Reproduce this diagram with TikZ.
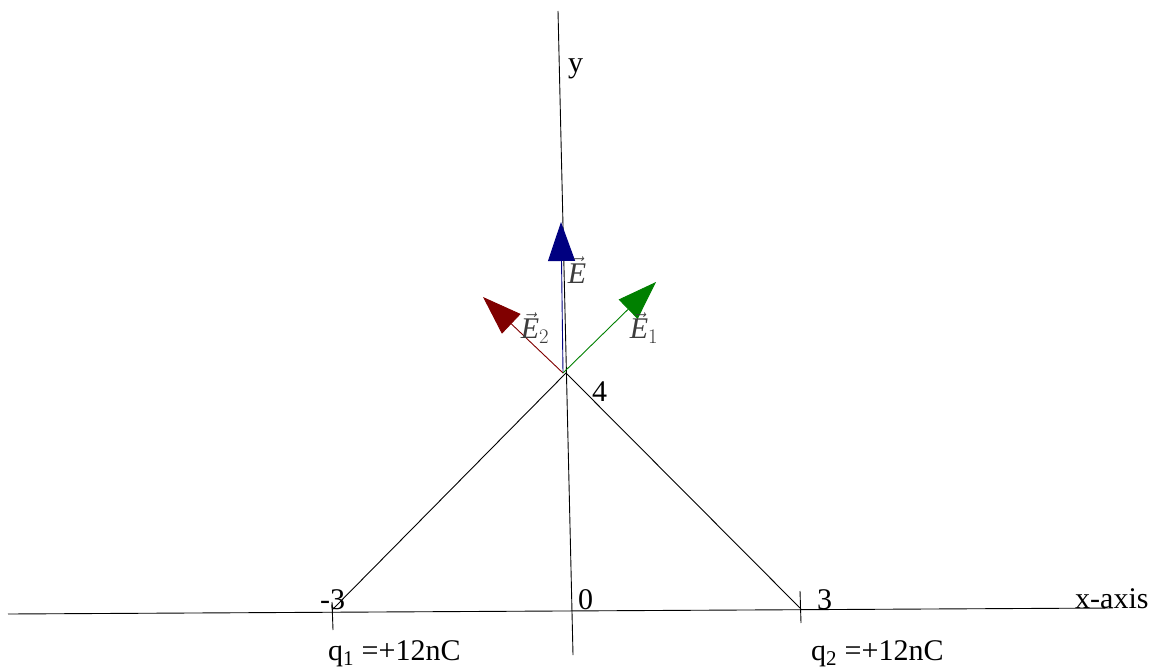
\documentclass[tikz,border=0pt]{standalone}
\usepackage{fontspec}
\setmainfont{Liberation Serif}
\usetikzlibrary{arrows.meta}
\definecolor{vnavy}{RGB}{0,0,128}
\definecolor{vred}{RGB}{128,0,0}
\definecolor{vgreen}{RGB}{0,128,0}
\definecolor{vgray}{RGB}{60,60,60}
\newcommand{\vE}{\vec{\mbox{\itshape E}}}
\begin{document}
\begin{tikzpicture}[x=1pt,y=-1pt,
  ax/.style={draw=black,line width=0.9pt},
  lbl/.style={anchor=base west,inner sep=0pt,font=\fontsize{30}{30}\selectfont},
  vlbl/.style={inner sep=0pt,text=vgray,font=\fontsize{30}{30}\selectfont},
  vec/.style={line width=0.9pt,-{Triangle[length=39pt,width=27pt]}}]
\useasboundingbox (0,0) rectangle (1155,668);
% axes
\coordinate (xl) at (8,614);
\coordinate (xr) at (1113,608);
\coordinate (yt) at (558,11);
\coordinate (yb) at (573,655);
\draw[ax] (xl) -- (xr);
\draw[ax] (yt) -- (yb);
% points
\coordinate (P) at (566,373);
\coordinate (A) at (332,610);
\coordinate (B) at (800,608);
\coordinate (At) at (332,602);
\coordinate (Ab) at (333,630);
\coordinate (Bt) at (800,591);
\coordinate (Bb) at (801,623);
\draw[ax] (P) -- (A);
\draw[ax] (P) -- (B);
\draw[ax] (At) -- (Ab);
\draw[ax] (Bt) -- (Bb);
% vectors
\coordinate (O) at (563,373);
\coordinate (Et) at (561,222);
\coordinate (E2t) at (483,297);
\coordinate (E1t) at (656,282);
\draw[vec,vnavy] (O) -- (Et);
\draw[vec,vred] (O) -- (E2t);
\draw[vec,vgreen] (O) -- (E1t);
% vector labels
\node[vlbl] (lE) at (577,270) {$\vE$};
\node[vlbl] (lE2) at (535,328) {$\vE_2$};
\node[vlbl] (lE1) at (644,328) {$\vE_1$};
% text labels
\node[lbl] (ly) at (568,73) {y};
\node[lbl] (l4) at (592,401) {4};
\node[lbl] (lm3) at (320,609) {-3};
\node[lbl] (l0) at (578,609) {0};
\node[lbl] (l3) at (817,609) {3};
\node[lbl] (lx) at (1075,608) {x-axis};
\node[lbl] (lq1) at (328,660) {q\textsubscript{1} =+12nC};
\node[lbl] (lq2) at (811,660) {q\textsubscript{2} =+12nC};
\end{tikzpicture}
\end{document}
